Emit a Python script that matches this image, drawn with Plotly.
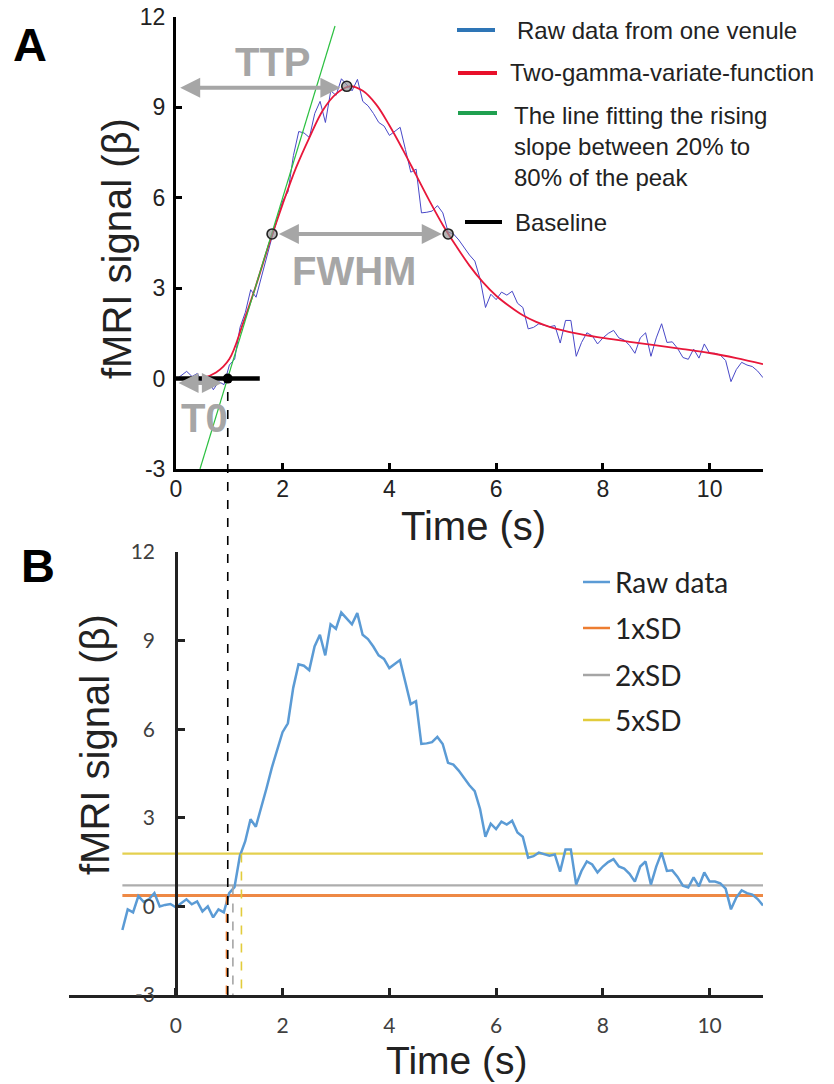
import numpy as np
import plotly.graph_objects as go

# page is 834x1084; the html body adds an 8px margin at the top-left
PAGE_W, PAGE_H = 834, 1084
OFF = 8
W, H = PAGE_W - OFF, PAGE_H - OFF

# ---------------- data ----------------
raw_t = np.round(np.arange(-1.0, 11.05, 0.1), 1)
raw_v = [
    -0.80, -0.10, -0.20, 0.35, 0.15, 0.25, 0.45, 0.00, 0.05, 0.08,
    -0.03, 0.10, 0.24, 0.07, 0.17, -0.17, 0.00, -0.37, -0.10, -0.20,
    0.45, 0.65, 1.70, 2.20, 2.95, 2.70, 3.40, 4.00, 4.70, 5.30,
    5.90, 6.20, 7.40, 8.20, 8.15, 8.00, 8.80, 9.20, 8.50, 9.55,
    9.40, 9.95, 9.75, 9.55, 9.93, 9.20, 9.05, 8.80, 8.50, 8.38,
    8.07, 8.20, 8.34, 7.60, 6.85, 6.95, 5.50, 5.52, 5.56, 5.74,
    5.50, 4.86, 4.80, 4.60, 4.35, 4.10, 3.90, 3.30, 2.36, 2.80,
    2.62, 2.87, 2.77, 2.90, 2.50, 2.36, 1.65, 1.70, 1.82, 1.76,
    1.72, 1.76, 1.18, 1.93, 1.93, 0.74, 1.20, 1.52, 1.42, 1.15,
    1.35, 1.50, 1.60, 1.35, 1.28, 1.10, 0.84, 1.35, 1.52, 0.74,
    1.35, 1.82, 1.20, 1.22, 1.00, 0.70, 0.64, 0.98, 0.68, 1.15,
    0.84, 0.84, 0.78, 0.60, -0.10, 0.30, 0.54, 0.45, 0.40, 0.25,
    0.03,
]

fit_t = [0.0, 0.25, 0.5, 0.75, 1.0, 1.25, 1.5, 1.75, 2.0, 2.25, 2.5, 2.75,
         3.0, 3.25, 3.5, 3.75, 4.0, 4.25, 4.5, 4.75, 5.0, 5.25, 5.5, 5.75,
         6.0, 6.25, 6.5, 6.75, 7.0, 7.5, 8.0, 8.5, 9.0, 9.5, 10.0, 10.5, 11.0]
fit_v = [0.0, 0.0, 0.02, 0.2, 0.65, 1.8, 3.1, 4.5, 5.8, 7.0, 8.0, 8.9,
         9.45, 9.7, 9.55, 9.1, 8.4, 7.6, 6.75, 5.9, 5.1, 4.4, 3.75, 3.2,
         2.75, 2.4, 2.1, 1.88, 1.72, 1.5, 1.35, 1.22, 1.1, 0.98, 0.85, 0.68, 0.48]

rise_t = [0.45, 2.98]
rise_v = [-3.0, 11.7]

baseline_t = [0.0, 1.57]
baseline_v = [0.0, 0.0]

t0_time, t0_value = 0.97, 0.0
peak_time, peak_value = 3.2, 9.7
half_times = [1.8, 5.1]
half_value = 4.8

sd_names = ["1xSD", "2xSD", "5xSD"]
sd_levels = [0.37, 0.71, 1.79]
sd_onsets = [0.95, 1.07, 1.23]
sd_colors = ["#ED7D31", "#A5A5A5", "#E2CC3C"]
sd_span = [-1.0, 11.0]

yticks = [-3, 0, 3, 6, 9, 12]
yticks_text = ["-3", "0", "3", "6", "9", "12"]
xticks_a = [0, 2, 4, 6, 8, 10]
xticks_b = [-2, 0, 2, 4, 6, 8, 10]
xticks_b_text = ["", "0", "2", "4", "6", "8", "10"]


# ---------------- geometry helpers (page pixels -> paper fraction) ----------------
def fx(px):
    return (px - OFF) / W


def fy(py):
    return 1 - (py - OFF) / H


AX = [fx(176), fx(763)]
AY = [fy(469), fy(17)]
BX = [fx(69), fx(763)]
BY = [fy(995), fy(552)]

ARIAL = "Liberation Sans, Arial, sans-serif"
CAL = "Lato, Carlito, Calibri, sans-serif"
GRAY = "#a6a6a6"

fig = go.Figure()

# ---- panel A ----
fig.add_trace(go.Scatter(x=raw_t, y=raw_v, mode="lines", xaxis="x", yaxis="y",
                         line=dict(color="#4848c8", width=1)))
fig.add_trace(go.Scatter(x=fit_t, y=fit_v, mode="lines", xaxis="x", yaxis="y",
                         line=dict(color="#E8173A", width=1.8, shape="spline")))
fig.add_trace(go.Scatter(x=rise_t, y=rise_v, mode="lines", xaxis="x", yaxis="y",
                         line=dict(color="#2BC040", width=1.2)))
fig.add_trace(go.Scatter(x=baseline_t, y=baseline_v, mode="lines", xaxis="x", yaxis="y",
                         line=dict(color="black", width=4.5)))
fig.add_trace(go.Scatter(x=[half_times[0], peak_time, half_times[1]],
                         y=[half_value, peak_value, half_value], mode="markers",
                         xaxis="x", yaxis="y",
                         marker=dict(size=10, color="rgba(150,150,150,0.7)",
                                     line=dict(color="#222", width=1.6)),
                         cliponaxis=False))
fig.add_trace(go.Scatter(x=[t0_time], y=[t0_value], mode="markers", xaxis="x", yaxis="y",
                         marker=dict(size=10, color="black"), cliponaxis=False))

# ---- panel B ----
for name, lvl, col in zip(sd_names, sd_levels, sd_colors):
    fig.add_trace(go.Scatter(x=sd_span, y=[lvl, lvl], mode="lines", xaxis="x2", yaxis="y2",
                             line=dict(color=col, width=3 if name == "1xSD" else 2.2),
                             opacity=0.9))
fig.add_trace(go.Scatter(x=raw_t, y=raw_v, mode="lines", xaxis="x2", yaxis="y2",
                         line=dict(color="#5B9BD5", width=2.5)))

shapes = []
for lvl, on, col in zip(sd_levels, sd_onsets, sd_colors):
    shapes.append(dict(type="line", xref="x2", yref="y2", x0=on, x1=on, y0=lvl, y1=-3,
                       line=dict(color=col, width=1.6, dash="dash")))

# black dashed connector from T0 (panel A) to panel B axis
yA0_paper = AY[0] + (t0_value - (-3)) / 15 * (AY[1] - AY[0])
shapes.append(dict(type="line", xref="x", yref="paper", x0=t0_time, x1=t0_time,
                   y0=BY[0], y1=yA0_paper, line=dict(color="black", width=1.6, dash="dash")))

# legend A samples
legA = [("#2E75B6", 457, 495, 30), ("#E8102A", 458, 497, 73),
        ("#20A050", 458, 497, 113), ("black", 465, 502, 222)]
for col, x0, x1, yy in legA:
    shapes.append(dict(type="line", xref="paper", yref="paper", x0=fx(x0), x1=fx(x1),
                       y0=fy(yy), y1=fy(yy), line=dict(color=col, width=4)))
# legend B samples
legB_y = [582, 628, 675, 720]
legB_col = ["#5B9BD5"] + sd_colors
for col, yy in zip(legB_col, legB_y):
    shapes.append(dict(type="line", xref="paper", yref="paper", x0=fx(583), x1=fx(610),
                       y0=fy(yy), y1=fy(yy), line=dict(color=col, width=2.5)))

ann = []


def ptext(text, px, py, size, font=ARIAL, color="#222", xanchor="center", angle=0, align="center"):
    ann.append(dict(text=text, x=fx(px), y=fy(py), xref="paper", yref="paper",
                    showarrow=False, xanchor=xanchor, yanchor="middle", textangle=angle,
                    align=align, font=dict(family=font, size=size, color=color)))


ptext("<b>A</b>", 30, 45, 47, color="black")
ptext("<b>B</b>", 38, 565, 47, color="black")
ptext("fMRI signal (β)", 117, 248, 40, angle=-90)
ptext("Time (s)", 473, 526, 40)
ptext("fMRI signal (β)", 95, 745, 40, angle=-90)
ptext("Time (s)", 457, 1060, 39)

ptext("Raw data from one venule", 515, 30, 24, xanchor="left")
ptext("Two-gamma-variate-function", 508, 73, 24, xanchor="left")
ptext("The line fitting the rising<br>slope between 20% to<br>80% of the peak", 512, 146, 24,
      xanchor="left", align="left")
ptext("Baseline", 513, 222, 24, xanchor="left")

for name, yy in zip(["Raw data"] + sd_names, legB_y):
    ptext(name, 613, yy, 28, font=CAL, xanchor="left")

# gray annotation labels (data coords, panel A)
for txt, xx, yy in [("<b>TTP</b>", 1.82, 10.5), ("<b>FWHM</b>", 3.33, 3.57), ("<b>T0</b>", 0.54, -1.31)]:
    ann.append(dict(text=txt, x=xx, y=yy, xref="x", yref="y", showarrow=False,
                    font=dict(family=ARIAL, size=40, color=GRAY)))

# double-headed arrows
for (xs, xe, yv) in [(0.05, 3.08, 9.65), (1.9, 4.98, half_value), (0.02, 0.86, -0.15)]:
    ann.append(dict(text="", x=xe, y=yv, ax=xs, ay=yv, xref="x", yref="y", axref="x", ayref="y",
                    showarrow=True, arrowhead=2, startarrowhead=2, arrowside="end+start",
                    arrowsize=1, startarrowsize=1, arrowwidth=4, arrowcolor=GRAY,
                    standoff=0, startstandoff=0))

axis_common = dict(showgrid=False, zeroline=False, showline=True, ticks="inside",
                   automargin=False, ticklabeloverflow="allow")

fig.update_layout(
    template="none",
    width=W, height=H, margin=dict(l=0, r=0, t=0, b=0, pad=0), autosize=False,
    paper_bgcolor="white", plot_bgcolor="white", showlegend=False,
    xaxis=dict(domain=AX, range=[0, 11], anchor="y", tickvals=xticks_a,
               linecolor="black", linewidth=3, tickwidth=3, ticklen=6, tickcolor="black",
               tickfont=dict(family=ARIAL, size=23, color="#222"), ticklabelstandoff=-3,
               **axis_common),
    yaxis=dict(domain=AY, range=[-3, 12], anchor="x", tickvals=yticks, ticktext=yticks_text,
               linecolor="black", linewidth=3, tickwidth=3, ticklen=6, tickcolor="black",
               tickfont=dict(family=ARIAL, size=23, color="#222"), ticklabelstandoff=3,
               **axis_common),
    xaxis2=dict(domain=BX, range=[-2, 11], anchor="y2", tickvals=xticks_b, ticktext=xticks_b_text,
                linecolor="#222", linewidth=2.5, tickwidth=2.5, ticklen=7, tickcolor="#222",
                tickfont=dict(family=CAL, size=21, color="#404040"), ticklabelstandoff=10,
                **axis_common),
    yaxis2=dict(domain=BY, range=[-3, 12], anchor="free", position=fx(176), tickvals=yticks,
                ticktext=yticks_text,
                linecolor="#222", linewidth=2.5, tickwidth=2.5, ticklen=7, tickcolor="#222",
                tickfont=dict(family=CAL, size=21, color="#404040"), ticklabelstandoff=16,
                **axis_common),
    shapes=shapes, annotations=ann,
)

fig.write_html("out.html")
